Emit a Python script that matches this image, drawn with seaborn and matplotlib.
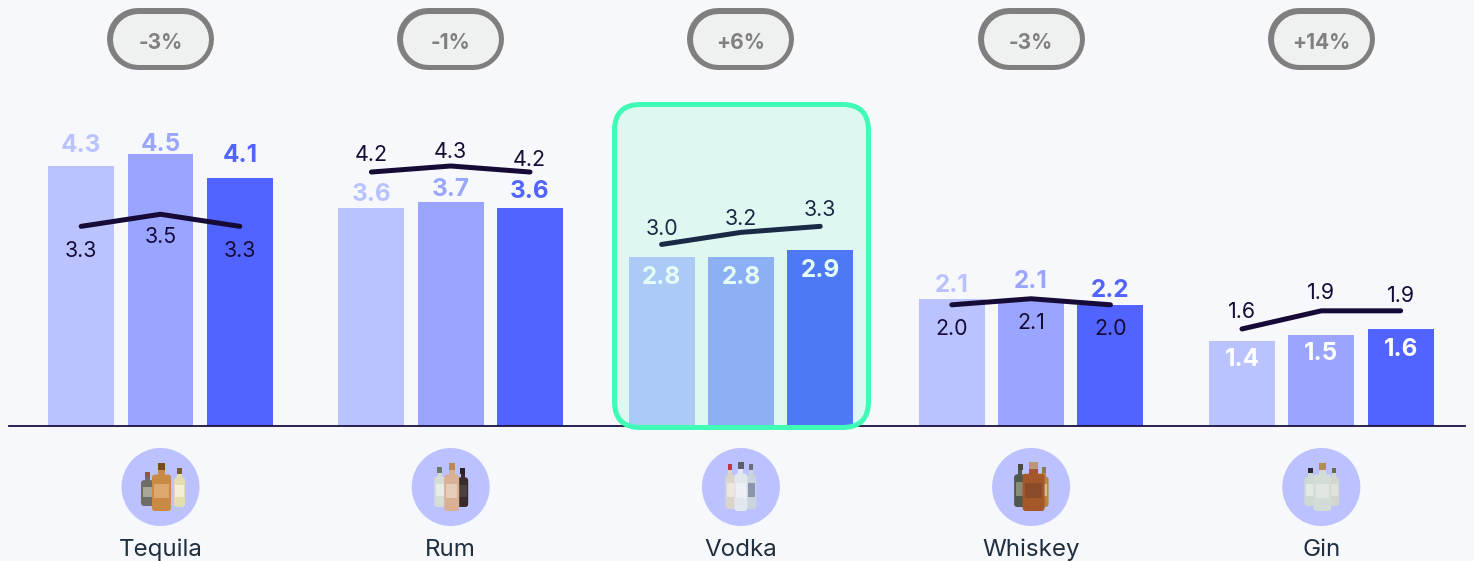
import matplotlib
matplotlib.use("Agg")
import matplotlib.pyplot as plt
from matplotlib.patches import FancyBboxPatch, Circle, Rectangle
import pandas as pd
import seaborn as sns

# ---------- data ----------
categories = ["Tequila", "Rum", "Vodka", "Whiskey", "Gin"]
periods = ["P1", "P2", "P3"]
p1_values = [4.3, 3.6, 2.8, 2.1, 1.4]
p2_values = [4.5, 3.7, 2.8, 2.1, 1.5]
p3_values = [4.1, 3.6, 2.9, 2.0, 1.6]      # drawn bar heights
p1_labels = ["4.3", "3.6", "2.8", "2.1", "1.4"]
p2_labels = ["4.5", "3.7", "2.8", "2.1", "1.5"]
p3_labels = ["4.1", "3.6", "2.9", "2.2", "1.6"]
line_values = [[3.3, 3.5, 3.3], [4.2, 4.3, 4.2], [3.0, 3.2, 3.3], [2.0, 2.1, 2.0], [1.6, 1.9, 1.9]]
changes = ["-3%", "-1%", "+6%", "-3%", "+14%"]

# ---------- style ----------
W, H, DPI = 1474, 561, 100
BG = "#F6F8FB"
BAR_COLORS = ["#BBC3FF", "#99A5FF", "#5264FF"]
LINE = "#150B36"
BASE_PX = 425.5
PX_PER_UNIT = 60.35
CENTER0, STEP = 160.5, 290.2
DODGE = 0.82 / 3
INSIDE = {"Vodka", "Gin"}
BAR_WEIGHTS = ["bold", "bold", "bold"]
# label offset from the bar top, px (one row per period)
BAR_DY = [[23, 16, -18, 16, -16],
          [12, 15, -18, 20, -16],
          [25, 19, -18, 17, -18]]
# label offset from the line point, px
LINE_DY = [[-23, -21, -23], [19, 16, 14], [17, 15, 18], [-22, -22, -22], [19, 20, 17]]
LINE_DX = [[0, 0, 0], [0, 0, -1], [0, 0, 0], [0, 0, 0], [0, 0, 0]]

sns.set_theme(style="white")
plt.rcParams["font.family"] = ["Inter", "DejaVu Sans"]
plt.rcParams["axes.facecolor"] = "none"
plt.rcParams["figure.facecolor"] = BG

fig = plt.figure(figsize=(W / DPI, H / DPI), dpi=DPI, facecolor=BG)
ax = fig.add_axes([0, (H - BASE_PX) / H, 1, BASE_PX / H])
ax.patch.set_alpha(0)

df = pd.DataFrame({
    "category": categories * 3,
    "period": sum([[p] * 5 for p in periods], []),
    "value": p1_values + p2_values + p3_values,
})
sns.barplot(data=df, x="category", y="value", hue="period", order=categories, hue_order=periods,
            palette=BAR_COLORS, width=0.82, gap=0.168, saturation=1, legend=False, ax=ax, errorbar=None,
            edgecolor="none", linewidth=0)
xmin, xmax = -CENTER0 / STEP, (W - CENTER0) / STEP
ax.set_xlim(xmin, xmax)
ax.set_ylim(0, BASE_PX / PX_PER_UNIT)
ax.set_xlabel("")
ax.set_ylabel("")
ax.set_yticks([])
ax.tick_params(axis="x", length=0, pad=81.5, labelsize=17.4, labelcolor="#1F2F3F")
for s in ["top", "left", "right"]:
    ax.spines[s].set_visible(False)
ax.spines["bottom"].set_bounds((9 - CENTER0) / STEP, (1465 - CENTER0) / STEP)
ax.spines["bottom"].set_color("#1A1140")
ax.spines["bottom"].set_linewidth(1.3)
ax.spines["bottom"].set_zorder(1)

for j, (values, labels) in enumerate(zip([p1_values, p2_values, p3_values], [p1_labels, p2_labels, p3_labels])):
    for i, (v, lab) in enumerate(zip(values, labels)):
        x = i + (j - 1) * DODGE
        inside = categories[i] in INSIDE
        ax.annotate(lab, (x, v), xytext=(0, BAR_DY[j][i]), textcoords="offset pixels", ha="center",
                    va="center_baseline", fontsize=17.5, fontweight=BAR_WEIGHTS[j],
                    color="white" if inside else BAR_COLORS[j], zorder=4)

for i, vals in enumerate(line_values):
    xs = [i + (j - 1) * DODGE for j in range(3)]
    sns.lineplot(x=xs, y=vals, sort=False, estimator=None, color=LINE, linewidth=3.6, ax=ax, zorder=5,
                 solid_capstyle="round", solid_joinstyle="round", legend=False)
    for j, v in enumerate(vals):
        ax.annotate(f"{v:.1f}", (xs[j], v), xytext=(LINE_DX[i][j], LINE_DY[i][j]), textcoords="offset pixels",
                    ha="center", va="center_baseline", fontsize=15.4, color=LINE, zorder=6)

# ---------- overlay in pixel coordinates ----------
ov = fig.add_axes([0, 0, 1, 1], zorder=10)
ov.set_xlim(0, W)
ov.set_ylim(H, 0)
ov.axis("off")

def rbox(x0, y0, x1, y1, r, **kw):
    p = FancyBboxPatch((x0, y0), x1 - x0, y1 - y0, boxstyle=f"round,pad=0,rounding_size={r}", **kw)
    ov.add_patch(p)
    return p

centers = [CENTER0 + STEP * i for i in range(5)]
PX = 72 / DPI

# pills: a stadium drawn as two thick round-capped strokes
for cx, t in zip(centers, changes):
    ov.plot([cx - 22.5, cx + 22.5], [39, 39], color="#7F7F7F", lw=62 * PX, solid_capstyle="round")
    ov.plot([cx - 22.5, cx + 22.5], [39, 39], color="#EFF1F1", lw=51 * PX, solid_capstyle="round")
    ov.text(cx, 40.5, t, ha="center", va="center_baseline", fontsize=15, fontweight="bold", color="#808080")

# highlight
rbox(614.5, 104.5, 868.5, 427.5, 26, fc=(64 / 255, 1, 180 / 255, 0.13), ec="#3FFBB5", lw=3.6, zorder=3)

# bottle icons: dx, half width, top, bottom, body, cap, label
BOTTLES = [
    [(-13, 6.5, 472, 506, "#6E6C64", "#8A5A30", "#A8A698"),
     (19, 5.5, 468, 507, "#E4DDB0", "#7A5A30", "#F4EFD4"),
     (1, 9.5, 463, 511, "#C98A45", "#7A4A20", "#DDA86E")],
    [(-11, 5.5, 467, 507, "#D6DCD8", "#6A7A70", "#E8ECE8"),
     (12, 5.5, 468, 507, "#3B2A2C", "#2A2026", "#4C403E"),
     (1, 7.5, 463, 511, "#D9B096", "#B98A55", "#E6CDBA")],
    [(-10.5, 5, 464, 509, "#DCD4CA", "#C8323A", "#ECE6DF"),
     (10.5, 5, 464, 509, "#CBD3DE", "#6A7078", "#8A96AC"),
     (0, 6.5, 462, 511, "#E2E7EE", "#5A5F68", "#ECEFF4")],
    [(-11, 6, 464, 507, "#50584C", "#4A4A40", "#8A8C78"),
     (13, 4.5, 467, 507, "#BC8240", "#8A7A50", "#D4BC90"),
     (2.5, 11, 462, 511, "#A4582A", "#B99A70", "#8A4C28")],
    [(-11, 6, 468, 506, "#CDD9D2", "#2A2A3A", "#E2E8E2"),
     (13, 5, 468, 506, "#D2D6CE", "#6A6A50", "#E2E2DA"),
     (1, 9, 463, 511, "#D4DCD8", "#B09048", "#E2E6E2")],
]
for cx, group in zip(centers, BOTTLES):
    ov.add_patch(Circle((cx, 487), 39, fc="#BBC2FF", ec="none"))
    for dx, hw, top, bot, body, cap, lab in group:
        x = cx + dx
        neck = (bot - top) * 0.24
        ov.add_patch(Rectangle((x - hw * 0.38, top), hw * 0.76, neck + 3, fc=body, ec="none"))
        ov.add_patch(Rectangle((x - hw * 0.42, top), hw * 0.84, neck * 0.6, fc=cap, ec="none"))
        rbox(x - hw, top + neck, x + hw, bot, 3, fc=body, ec="none")
        ov.add_patch(Rectangle((x - hw * 0.75, top + neck + (bot - top - neck) * 0.25), hw * 1.5,
                               (bot - top - neck) * 0.4, fc=lab, ec="none"))

fig.savefig("out.png", dpi=DPI, facecolor=BG)
